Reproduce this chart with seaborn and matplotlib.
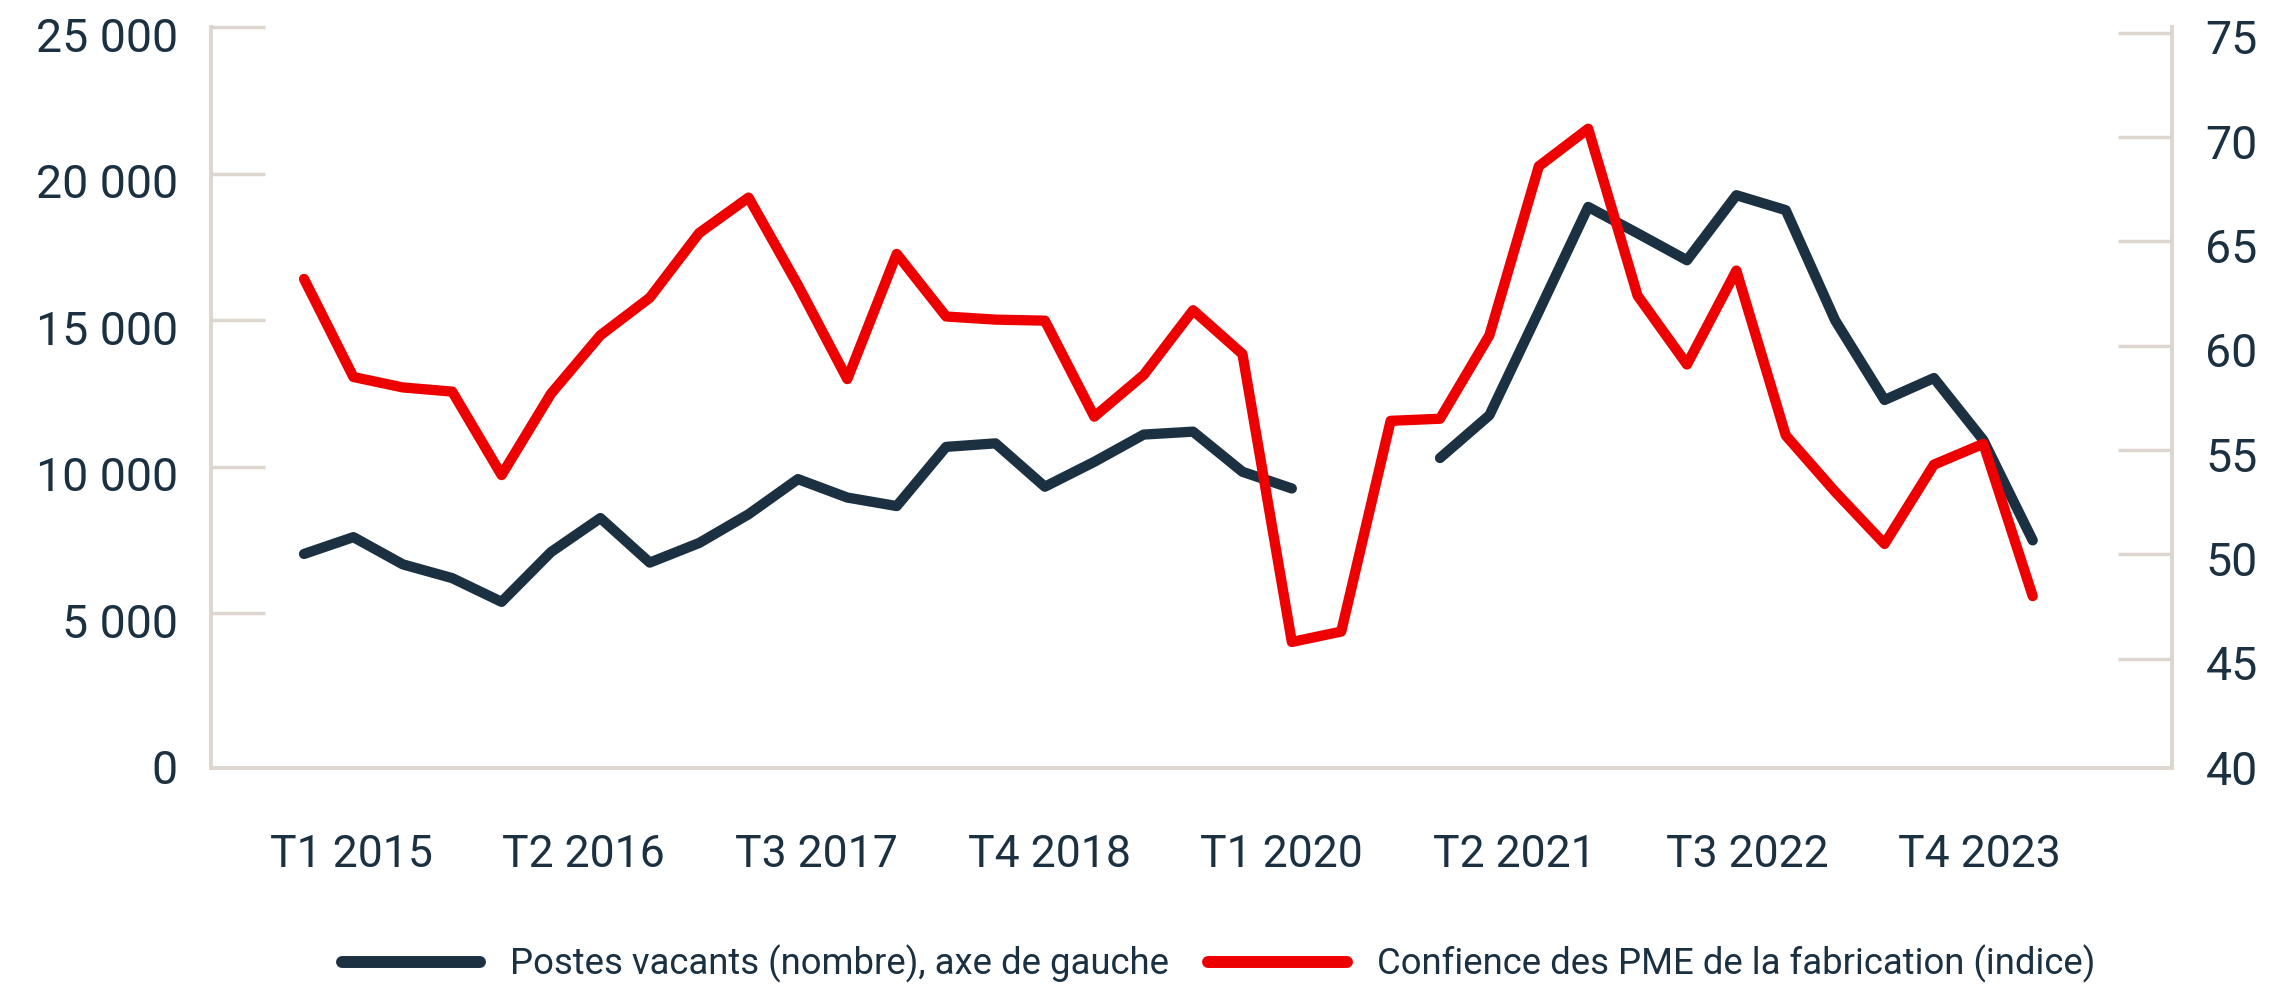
import numpy as np
import pandas as pd
import matplotlib
matplotlib.use("Agg")
import matplotlib.pyplot as plt
import seaborn as sns
from matplotlib.lines import Line2D
from matplotlib.ticker import FuncFormatter
from matplotlib.transforms import ScaledTranslation
from matplotlib import font_manager

# ---------------- data ----------------
quarters = [f"T{q} {y}" for y in range(2015, 2024) for q in range(1, 5)]
postes_vacants = [7025, 7600, 6670, 6200, 5390, 7090, 8250, 6730, 7400, 8380,
                  9580, 8950, 8660, 10680, 10800, 9320, 10170, 11100, 11200, 9830,
                  9260, np.nan, np.nan, 10300, 11760, 15300, 18870, 17970, 17050, 19270,
                  18760, 15000, 12280, 13030, 10910, 7490]
confiance_pme = [63.2, 58.5, 58.0, 57.8, 53.8, 57.7, 60.5, 62.3, 65.4, 67.1,
                 62.9, 58.4, 64.4, 61.4, 61.25, 61.2, 56.6, 58.6, 61.7, 59.6,
                 45.8, 46.3, 56.4, 56.5, 60.5, 68.6, 70.4, 62.4, 59.1, 63.6,
                 55.7, 53.0, 50.5, 54.3, 55.3, 48.0]
tick_labels = ["T1 2015", "T2 2016", "T3 2017", "T4 2018",
               "T1 2020", "T2 2021", "T3 2022", "T4 2023"]
left_ticks = [0, 5000, 10000, 15000, 20000, 25000]
right_ticks = [40, 45, 50, 55, 60, 65, 70, 75]
legend_labels = ["Postes vacants (nombre), axe de gauche",
                 "Confience des PME de la fabrication (indice)"]

NAVY = "#1b3041"
RED = "#ee0000"
BEIGE = "#ddd6ce"

# ---------------- style ----------------
sns.set_theme(style="white")
names = {f.name for f in font_manager.fontManager.ttflist}
fam = "Liberation Sans Narrow" if "Liberation Sans Narrow" in names else "Roboto"
plt.rcParams["font.family"] = [fam, "DejaVu Sans"]

fig = plt.figure(figsize=(22.71, 9.86), dpi=100)
ax = fig.add_axes([0.0929, 0.2214, 0.8635, 0.7509])
ax2 = ax.twinx()

t = np.arange(len(quarters))
df_v = pd.DataFrame({"t": t, "v": postes_vacants})
df_v["seg"] = df_v["v"].isna().cumsum()
df_v = df_v.dropna()
df_c = pd.DataFrame({"t": t, "c": confiance_pme})

sns.lineplot(data=df_v, x="t", y="v", units="seg", estimator=None, ax=ax,
             color=NAVY, lw=7.4, solid_capstyle="round", solid_joinstyle="round",
             legend=False)
sns.lineplot(data=df_c, x="t", y="c", ax=ax2, color=RED, lw=7.4,
             solid_capstyle="round", solid_joinstyle="round", legend=False)

ax.set_xlim(-1.884, 37.82)
ax.set_ylim(-270, 25000)
ax2.set_ylim(39.775, 75.26)
for a in (ax, ax2):
    a.set_xlabel("")
    a.set_ylabel("")
    a.grid(False)

ax.set_xticks(np.linspace(0.95, 33.93, len(tick_labels)))
ax.set_xticklabels(tick_labels)
ax.set_yticks(left_ticks)
ax.yaxis.set_major_formatter(FuncFormatter(lambda v, p: f"{int(v):,}".replace(",", " ")))
ax2.set_yticks(right_ticks)
ax2.set_yticklabels([str(v) for v in right_ticks])

ax.tick_params(axis="x", length=0, pad=48, labelsize=32, labelcolor=NAVY)
ax.tick_params(axis="y", direction="in", length=39, width=2.5, color=BEIGE,
               pad=24, labelsize=33.5, labelcolor=NAVY)
ax2.tick_params(axis="y", direction="in", length=39, width=2.5, color=BEIGE,
                pad=24, labelsize=33.5, labelcolor=NAVY)

# bottom tick marks merge with the base line in the reference
ax.yaxis.get_major_ticks()[0].tick1line.set_visible(False)
ax2.yaxis.get_major_ticks()[0].tick2line.set_visible(False)

# labels sit slightly below their tick marks in the reference
for lab in ax.get_yticklabels():
    lab.set_transform(lab.get_transform() + ScaledTranslation(0, -7 / 100, fig.dpi_scale_trans))
for lab in ax2.get_yticklabels():
    lab.set_transform(lab.get_transform() + ScaledTranslation(0, -4 / 100, fig.dpi_scale_trans))

for s in ("top", "right"):
    ax.spines[s].set_visible(False)
for s in ("top", "left", "bottom"):
    ax2.spines[s].set_visible(False)
for sp in (ax.spines["left"], ax.spines["bottom"], ax2.spines["right"]):
    sp.set_color(BEIGE)
    sp.set_linewidth(2.8)

handles = [Line2D([0], [0], color=NAVY, lw=8.6, solid_capstyle="round"),
           Line2D([0], [0], color=RED, lw=8.6, solid_capstyle="round")]
fig.legend(handles, legend_labels, loc="center", bbox_to_anchor=(0.5366, 0.0225),
           ncol=2, frameon=False, fontsize=26.3, handlelength=3.78,
           handletextpad=0.83, columnspacing=1.07, labelcolor=NAVY, borderpad=0)

fig.savefig("out.png", dpi=100)
